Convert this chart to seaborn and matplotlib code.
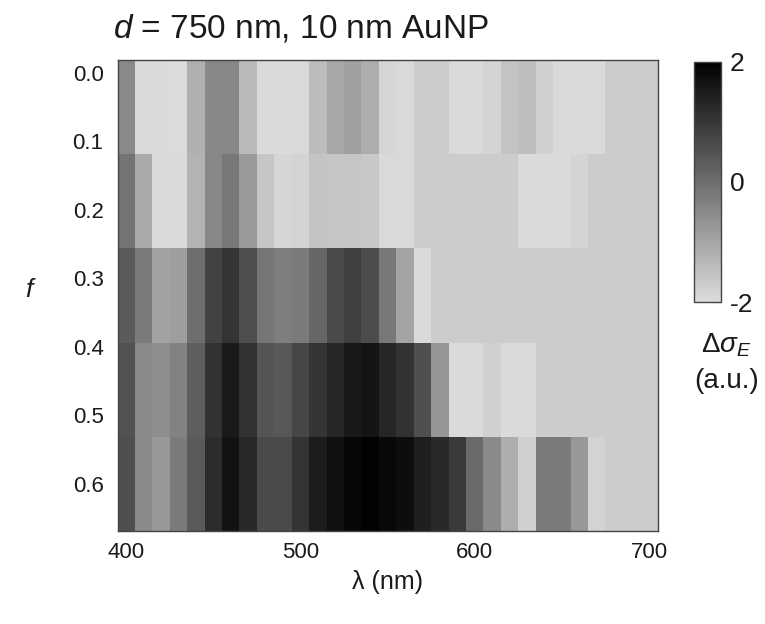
import numpy as np
import pandas as pd
import matplotlib
matplotlib.use("Agg")
import matplotlib.pyplot as plt
import seaborn as sns
from matplotlib.colors import LinearSegmentedColormap
from matplotlib.ticker import FixedLocator

# ---------------- data ----------------
wavelengths = [400, 410, 420, 430, 440, 450, 460, 470, 480, 490,
               500, 510, 520, 530, 540, 550, 560, 570, 580, 590,
               600, 610, 620, 630, 640, 650, 660, 670, 680, 690, 700]
f_rows = [0.05, 0.1875, 0.325, 0.4625, 0.6]

row_f0 = [-0.50, -1.93, -1.96, -2.00, -1.20, -0.47, -0.47, -1.38, -1.96, -1.96,
          -1.93, -1.42, -1.02, -0.91, -1.13, -1.89, -1.93, -1.71, -1.71, -1.93,
          -1.93, -1.85, -1.56, -1.45, -1.78, -1.96, -1.96, -1.96, -1.71, -1.71, -1.71]
row_f1 = [-0.11, -1.09, -1.96, -1.96, -1.24, -0.44, -0.18, -0.80, -1.60, -1.89,
          -1.82, -1.56, -1.60, -1.60, -1.64, -1.93, -1.93, -1.71, -1.71, -1.71,
          -1.71, -1.71, -1.71, -1.96, -1.96, -1.96, -1.85, -1.71, -1.71, -1.71, -1.71]
row_f2 = [0.33, -0.25, -0.95, -0.87, 0.00, 0.80, 1.05, 0.58, -0.15, -0.29,
          -0.22, 0.15, 0.65, 0.84, 0.62, -0.18, -0.98, -1.96, -1.71, -1.71,
          -1.71, -1.71, -1.71, -1.71, -1.71, -1.71, -1.71, -1.71, -1.71, -1.71, -1.71]
row_f3 = [0.51, -0.51, -0.55, -0.37, 0.29, 1.09, 1.53, 1.09, 0.44, 0.40,
          0.73, 1.05, 1.31, 1.56, 1.64, 1.31, 1.09, 0.55, -0.73, -1.96,
          -1.96, -1.78, -1.96, -1.96, -1.71, -1.71, -1.71, -1.71, -1.71, -1.71, -1.71]
row_f4 = [0.55, -0.51, -0.76, -0.22, 0.36, 1.20, 1.67, 1.27, 0.65, 0.65,
          1.05, 1.49, 1.71, 1.89, 1.96, 1.85, 1.75, 1.45, 1.24, 0.95,
          0.07, -0.51, -1.13, -1.78, -0.22, -0.25, -0.76, -1.82, -1.71, -1.71, -1.71]

x_major = [400, 500, 600, 700]
x_minor = [450, 550, 650]
y_major = [0.0, 0.1, 0.2, 0.3, 0.4, 0.5, 0.6]
cbar_major = [-2, 0, 2]
cbar_minor = [-1.5, -1.0, -0.5, 0.5, 1.0, 1.5]

# ---------------- style ----------------
sns.set_theme(style="white")
plt.rcParams['font.family'] = ['Liberation Sans', 'DejaVu Sans']
plt.rcParams['mathtext.fontset'] = 'custom'
plt.rcParams['mathtext.rm'] = 'Liberation Sans'
plt.rcParams['mathtext.it'] = 'Liberation Sans:italic'
plt.rcParams['mathtext.bf'] = 'Liberation Sans:bold'

df = pd.DataFrame([row_f0, row_f1, row_f2, row_f3, row_f4],
                  index=f_rows, columns=wavelengths)

cmap = LinearSegmentedColormap.from_list("grayrev", ["#dcdcdc", "#000000"])

fig = plt.figure(figsize=(7.65, 6.24), dpi=100)
ax = fig.add_axes([0.1536, 0.149, 0.7061, 0.7548])
cax = fig.add_axes([0.907, 0.516, 0.036, 0.385])

sns.heatmap(df, ax=ax, cbar_ax=cax, cmap=cmap, vmin=-2, vmax=2,
            xticklabels=False, yticklabels=False)

# map data values onto heatmap cell coordinates
dw = wavelengths[1] - wavelengths[0]
x0 = wavelengths[0] - dw / 2
dh = f_rows[1] - f_rows[0]
y0 = f_rows[0] - dh / 2

def xpos(v):
    return (v - x0) / dw

def ypos(v):
    return (v - y0) / dh

ax.set_xticks([xpos(v) for v in x_major])
ax.set_xticklabels([str(v) for v in x_major])
ax.xaxis.set_minor_locator(FixedLocator([xpos(v) for v in x_minor]))
ax.set_yticks([ypos(v) for v in y_major])
ax.set_yticklabels([f"{v:.1f}" for v in y_major], rotation=0)

frame_color = "#444444"
text_color = "#1a1a1a"
for s in ax.spines.values():
    s.set_visible(True)
    s.set_color(frame_color)
    s.set_linewidth(1.0)

ax.tick_params(which='both', direction='in', top=True, right=True,
               bottom=True, left=True, length=5, width=1, color=frame_color,
               labelsize=16, labelcolor=text_color)
ax.tick_params(axis='x', pad=8)
ax.tick_params(axis='y', pad=10)
ax.set_xlabel("")
ax.set_ylabel("")

# colorbar
cb = ax.collections[0].colorbar
cb.set_ticks(cbar_major)
cb.ax.set_yticklabels([str(v) for v in cbar_major])
cb.ax.yaxis.set_minor_locator(FixedLocator(cbar_minor))
cb.ax.tick_params(which='both', direction='in', right=True, length=4,
                  width=0.8, color=frame_color, labelsize=19,
                  labelcolor=text_color, pad=6)
cb.outline.set_visible(True)
cb.outline.set_linewidth(1.0)
cb.outline.set_edgecolor(frame_color)

# texts
fig.text(113 / 765, 1 - 38 / 624, r"$d$ = 750 nm, 10 nm AuNP",
         ha='left', va='baseline', fontsize=24, color=text_color)
fig.text(388 / 765, 1 - 582 / 624, "λ (nm)", ha='center', va='center',
         fontsize=18, color=text_color)
fig.text(31 / 765, 1 - 290 / 624, r"$f$", ha='center', va='center',
         fontsize=19, color=text_color)
fig.text(726 / 765, 1 - 345 / 624, r"$\Delta\sigma_E$", ha='center',
         va='center', fontsize=20, color=text_color)
fig.text(727 / 765, 1 - 381 / 624, "(a.u.)", ha='center', va='center',
         fontsize=20, color=text_color)

fig.savefig("out.png", dpi=100)
